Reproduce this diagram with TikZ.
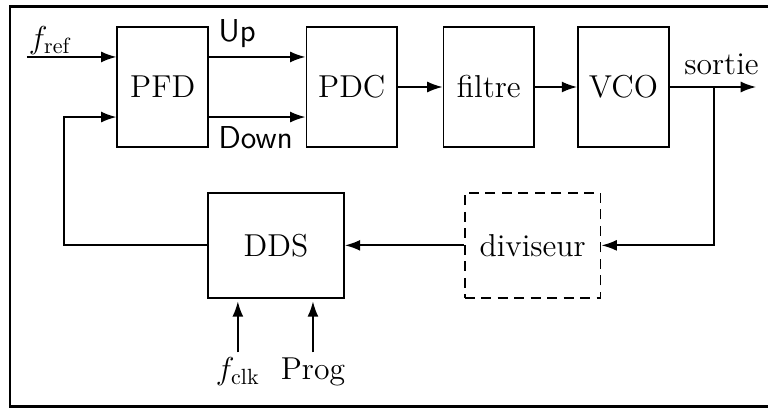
\documentclass[tikz,border=0pt]{standalone}
\usepackage{amsmath}
\usepackage{tikz}
\usetikzlibrary{arrows.meta,calc}
\tikzset{
  bloc/.style={rectangle, draw, thick, minimum width=1.45cm, minimum height=1.92cm,
               inner sep=0pt, font=\Large},
  grandbloc/.style={bloc, minimum width=2.17cm, minimum height=1.68cm},
  optbloc/.style={grandbloc, dash pattern=on 4.5pt off 3pt},
  lien/.style={-{Latex[length=7pt,width=5pt]}, thick},
  sig/.style={font=\sffamily\Large},
}
\begin{document}
\begin{tikzpicture}
  \useasboundingbox (0,0) rectangle (12.27,6.52);
  \draw[line width=1.2pt] (12.5,0.03) -- (0.16,0.03) -- (0.16,6.42) -- (12.5,6.42);

  % chaine directe
  \node[bloc] (pfd) at (2.60,5.13) {PFD};
  \node[bloc] (pdc) at (5.62,5.13) {PDC};
  \node[bloc] (filtre) at (7.81,5.13) {filtre};
  \node[bloc] (vco) at (9.96,5.13) {VCO};

  % boucle de retour
  \node[grandbloc] (dds) at (4.41,2.60) {DDS};
  \node[optbloc] (div) at (8.51,2.60) {diviseur};

  \coordinate (fin) at (0.43,5.61);
  \coordinate (sortie) at (12.08,5.13);
  \coordinate (br) at (11.41,5.13);
  \coordinate (fb) at (1.02,4.65);
  \coordinate (clk) at (3.80,0.89);
  \coordinate (prog) at (5.00,0.89);

  \draw[lien] (fin) node[above right, inner sep=0.5pt, font=\Large] {$f_{\text{ref}}$} -- (fin -| pfd.west);
  \draw[lien] ($(pfd.east)+(0,0.48)$) node[above right, sig, inner sep=4pt] {Up} -- ($(pdc.west)+(0,0.48)$);
  \draw[lien] ($(pfd.east)+(0,-0.48)$) node[below right, sig, inner sep=4pt] {Down} -- ($(pdc.west)+(0,-0.48)$);
  \draw[lien] (pdc) -- (filtre);
  \draw[lien] (filtre) -- (vco);
  \draw[lien] (vco) -- (sortie) node[above, pos=0.6, font=\Large, inner sep=5pt] {sortie};

  \draw[lien] (br) |- (div.east);
  \draw[lien] (div) -- (dds);
  \draw[lien] (dds.west) -| (fb) -- (fb -| pfd.west);

  % entrees du DDS
  \draw[lien] (clk) node[below, font=\Large, inner sep=2pt] {$f_{\text{clk}}$} -- ($(clk |- dds.south)+(0,-0.04)$);
  \draw[lien] (prog) node[below, font=\Large, inner sep=2pt] {Prog} -- ($(prog |- dds.south)+(0,-0.04)$);
\end{tikzpicture}
\end{document}
